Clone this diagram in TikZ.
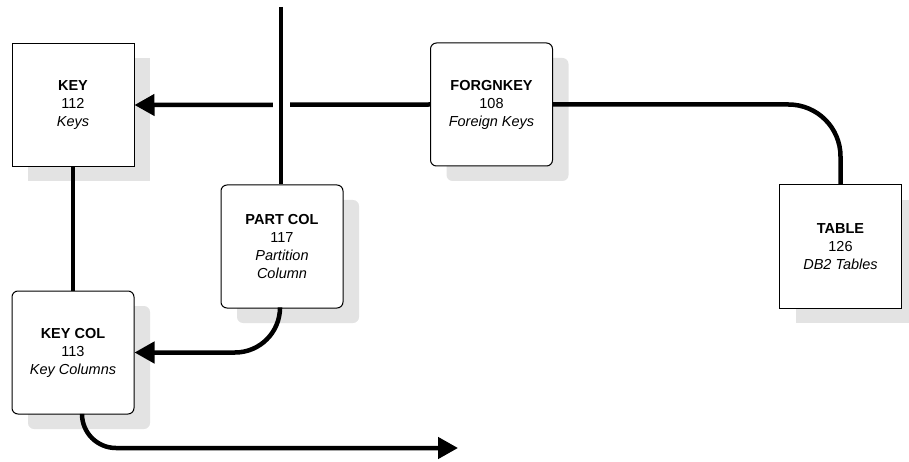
\documentclass[tikz,border=0pt]{standalone}
\usepackage{fontspec}
\setmainfont{Liberation Sans}
\usetikzlibrary{arrows.meta,shadows}
\begin{document}
\begin{tikzpicture}[x=1pt,y=-1pt,
  tbl/.style={draw, line width=1pt, fill=white, minimum width=122pt, minimum height=123pt,
    inner sep=0pt, align=center, font=\fontsize{14.5}{18}\selectfont,
    drop shadow={shadow xshift=16pt, shadow yshift=-15pt, fill=black!11, opacity=1}},
  rtbl/.style={tbl, rounded corners=6pt},
  conn/.style={line width=4.5pt},
  arr/.style={conn, -{Triangle[length=20pt,width=21pt]}},
  gapline/.style={conn, preaction={draw=white, line width=17pt, shorten >=3pt}}]
\useasboundingbox (0,0) rectangle (909,462);
\node[tbl]  (KEY)      at (73,105)    {\textbf{KEY}\\112\\\textit{Keys}};
\node[rtbl] (FORGNKEY) at (491.5,104.5) {\textbf{FORGNKEY}\\108\\\textit{Foreign Keys}};
\node[tbl]  (TABLE)    at (840.5,246.5) {\textbf{TABLE}\\126\\\textit{DB2 Tables}};
\node[rtbl] (PARTCOL)  at (282,246.5) {\textbf{PART COL}\\117\\\textit{Partition}\\\textit{Column}};
\node[rtbl] (KEYCOL)   at (73,352.5)  {\textbf{KEY COL}\\113\\\textit{Key Columns}};
\coordinate (top) at (281,7);
\coordinate (out) at (458,448);
% connectors
\draw[arr] (FORGNKEY.west) -- (KEY.east);
\draw[gapline] (top) -- (top |- PARTCOL.north);
\draw[conn, rounded corners=52pt] (FORGNKEY.east) -- (FORGNKEY.east -| TABLE.north) -- (TABLE.north);
\draw[conn] (KEY.south) -- (KEYCOL.north);
\draw[arr, rounded corners=45pt] ([xshift=-2pt]PARTCOL.south) -- ([xshift=-2pt]PARTCOL.south |- KEYCOL.east) -- (KEYCOL.east);
\draw[arr, rounded corners=34pt] ([xshift=9pt]KEYCOL.south) -- ([xshift=9pt]KEYCOL.south |- out) -- (out);
\end{tikzpicture}
\end{document}
